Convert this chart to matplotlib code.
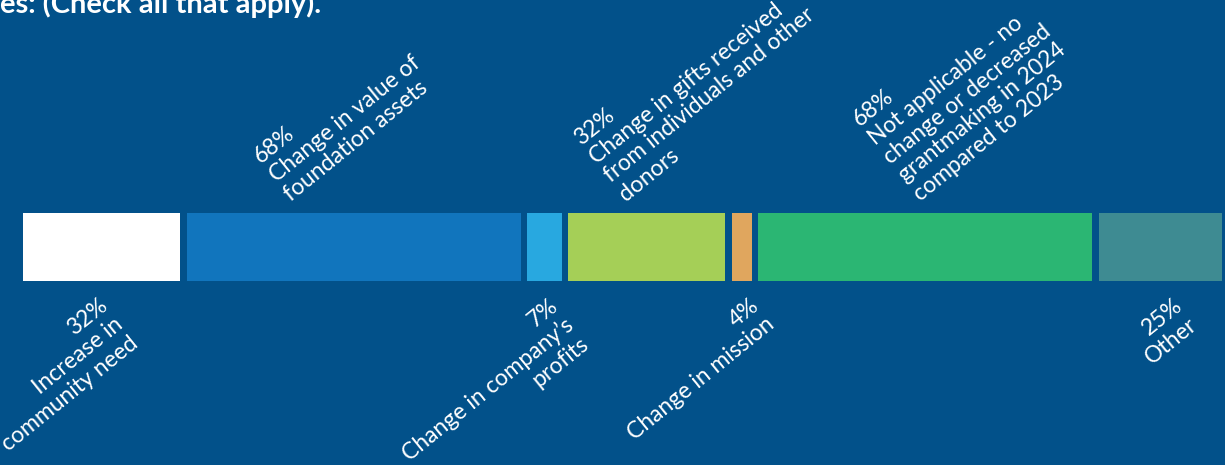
import numpy as np
import matplotlib.pyplot as plt

plt.rcParams['font.family'] = ['Lato', 'DejaVu Sans']

# data
labels = ["Increase in\ncommunity need",
          "Change in value of\nfoundation assets",
          "Change in company\u2019s\nprofits",
          "Change in gifts received\nfrom individuals and other\ndonors",
          "Change in mission",
          "Not applicable - no\nchange or decreased\ngrantmaking in 2024\ncompared to 2023",
          "Other"]
values = [32, 68, 7, 32, 4, 68, 25]
sides = ["below", "above", "below", "above", "below", "above", "below"]

colors = ["#FFFFFF", "#1175BD", "#28A8E0", "#A5CF57", "#E0A65E", "#2BB673", "#3E8B92"]
bg = "#02518A"

# label nudges in pixels (x)
nudge = [-3, -60, 4, -18, 8, -2, 13]

fig = plt.figure(figsize=(12.25, 4.65), dpi=100, facecolor=bg)
ax = fig.add_axes([0, 0, 1, 1])
ax.set_facecolor(bg)

gap = 1.35
vals = np.array(values, dtype=float)
lefts = np.concatenate([[0], np.cumsum(vals)[:-1]]) + np.arange(len(vals)) * gap

ax.barh(0, vals, left=lefts, height=1.0, color=colors)

# 4.91 px per unit, bar starts at px 23; bar spans px 213..281
ax.set_xlim(-23 / 4.91, (1225 - 23) / 4.91)
ax.set_ylim(-0.5 - (465 - 281) / 68, 0.5 + 213 / 68)
ax.axis("off")

px = 72 / 100
for i, (lab, v, s) in enumerate(zip(labels, values, sides)):
    cx = lefts[i] + v / 2
    txt = f"{v}%\n{lab}"
    if s == "above":
        ax.annotate(txt, xy=(cx, 0.5), xytext=(nudge[i] * px, 8 * px),
                    textcoords="offset points", rotation=39, rotation_mode="anchor",
                    ha="left", va="bottom", multialignment="left",
                    color="white", fontsize=16.5, linespacing=1.18)
    else:
        ax.annotate(txt, xy=(cx, -0.5), xytext=(nudge[i] * px, -14 * px),
                    textcoords="offset points", rotation=39, rotation_mode="anchor",
                    ha="right", va="top", multialignment="right",
                    color="white", fontsize=16.5, linespacing=1.18)

fig.text(0, 1 - 13 / 465, "es: (Check all that apply).", color="white",
         fontsize=21, fontweight="bold", ha="left", va="baseline")

plt.savefig("out.png", dpi=100, facecolor=bg)
